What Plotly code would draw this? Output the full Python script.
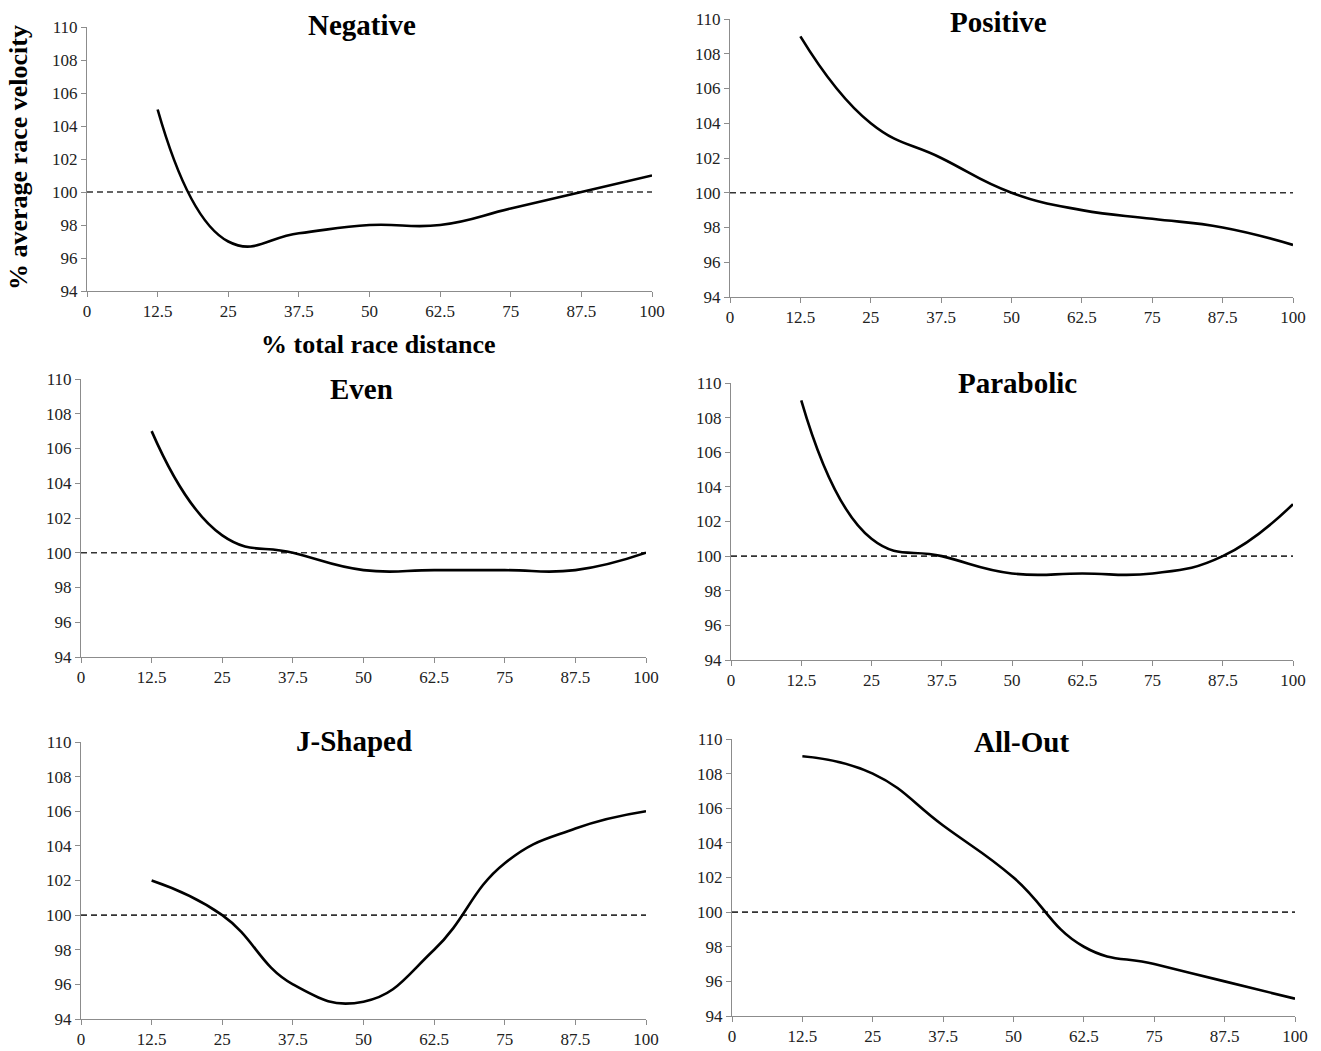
import plotly.graph_objects as go

# ---------------- data ----------------
distance = [12.5, 25, 37.5, 50, 62.5, 75, 87.5, 100]
negative = [105, 97, 97.5, 98, 98, 99, 100, 101]
positive = [109, 104, 102, 100, 99, 98.5, 98, 97]
even = [107, 101, 100, 99, 99, 99, 99, 100]
parabolic = [109, 101, 100, 99, 99, 99, 100, 103]
j_shaped = [102, 100, 96, 95, 98, 103, 105, 106]
all_out = [109, 108, 105, 102, 98, 97, 96, 95]
titles = ["Negative", "Positive", "Even", "Parabolic", "J-Shaped", "All-Out"]
ref_x = [0, 100]
ref_y = [100, 100]
x_ticks = [0, 12.5, 25, 37.5, 50, 62.5, 75, 87.5, 100]
x_tick_text = ["0", "12.5", "25", "37.5", "50", "62.5", "75", "87.5", "100"]
y_ticks = [94, 96, 98, 100, 102, 104, 106, 108, 110]
y_title = "% average race velocity"
x_title = "% total race distance"

series = [negative, positive, even, parabolic, j_shaped, all_out]

# ---------------- layout (pixels) ----------------
W, H = 1321, 1051
# (left, right, top, bottom) of each plot area in pixels
panels = [(87, 652, 27, 291), (730, 1293, 19, 297),
          (81, 646, 379, 657), (731, 1293, 383, 660),
          (81, 646, 742, 1019), (732, 1295, 739, 1016)]
title_pos = [(362, 25), (998, 22), (361, 389), (1017, 383), (354, 741), (1022, 742)]

SERIF = "Liberation Serif, Times New Roman, serif"
AXIS_COLOR = "#8c8c8c"

fig = go.Figure()
layout = dict(width=W, height=H, margin=dict(l=0, r=0, t=0, b=0),
              paper_bgcolor="white", plot_bgcolor="white", showlegend=False,
              annotations=[])

for i, (vals, (l, r, t, b)) in enumerate(zip(series, panels)):
    n = i + 1
    xa = "x" if n == 1 else f"x{n}"
    ya = "y" if n == 1 else f"y{n}"
    fig.add_trace(go.Scatter(x=ref_x, y=ref_y, mode="lines", xaxis=xa, yaxis=ya,
                             line=dict(color="#333333", width=1.7, dash="6px,4px"),
                             hoverinfo="skip"))
    fig.add_trace(go.Scatter(x=distance, y=vals, mode="lines", xaxis=xa, yaxis=ya,
                             line=dict(color="black", width=2.6, shape="spline", smoothing=1.3)))
    xkey = "xaxis" if n == 1 else f"xaxis{n}"
    ykey = "yaxis" if n == 1 else f"yaxis{n}"
    layout[xkey] = dict(domain=[l / W, r / W], anchor=ya, range=[0, 100],
                        tickmode="array", tickvals=x_ticks, ticktext=x_tick_text,
                        showline=True, linecolor=AXIS_COLOR, linewidth=1,
                        ticks="outside", ticklen=5, tickcolor=AXIS_COLOR,
                        showgrid=False, zeroline=False, automargin=False,
                        tickfont=dict(family=SERIF, size=17, color="#222"))
    layout[ykey] = dict(domain=[1 - b / H, 1 - t / H], anchor=xa, range=[94, 110],
                        tickmode="array", tickvals=y_ticks,
                        showline=True, linecolor=AXIS_COLOR, linewidth=1,
                        ticks="outside", ticklen=5, tickcolor=AXIS_COLOR,
                        showgrid=False, zeroline=False, automargin=False,
                        tickfont=dict(family=SERIF, size=17, color="#222"))
    tx, ty = title_pos[i]
    layout["annotations"].append(dict(text=f"<b>{titles[i]}</b>", x=tx / W, y=1 - ty / H,
                                      xref="paper", yref="paper", showarrow=False,
                                      xanchor="center", yanchor="middle",
                                      font=dict(family=SERIF, size=29, color="black")))

layout["annotations"].append(dict(text=f"<b>{y_title}</b>", x=19 / W, y=1 - 158 / H,
                                  xref="paper", yref="paper", showarrow=False,
                                  textangle=-90, xanchor="center", yanchor="middle",
                                  font=dict(family=SERIF, size=26, color="black")))
layout["annotations"].append(dict(text=f"<b>{x_title}</b>", x=378 / W, y=1 - 344 / H,
                                  xref="paper", yref="paper", showarrow=False,
                                  xanchor="center", yanchor="middle",
                                  font=dict(family=SERIF, size=26, color="black")))

fig.update_layout(**layout)
page_js = "document.body.style.margin='0';document.body.style.overflow='hidden';"
fig.write_html("out.html", config={"displayModeBar": False}, post_script=page_js)
